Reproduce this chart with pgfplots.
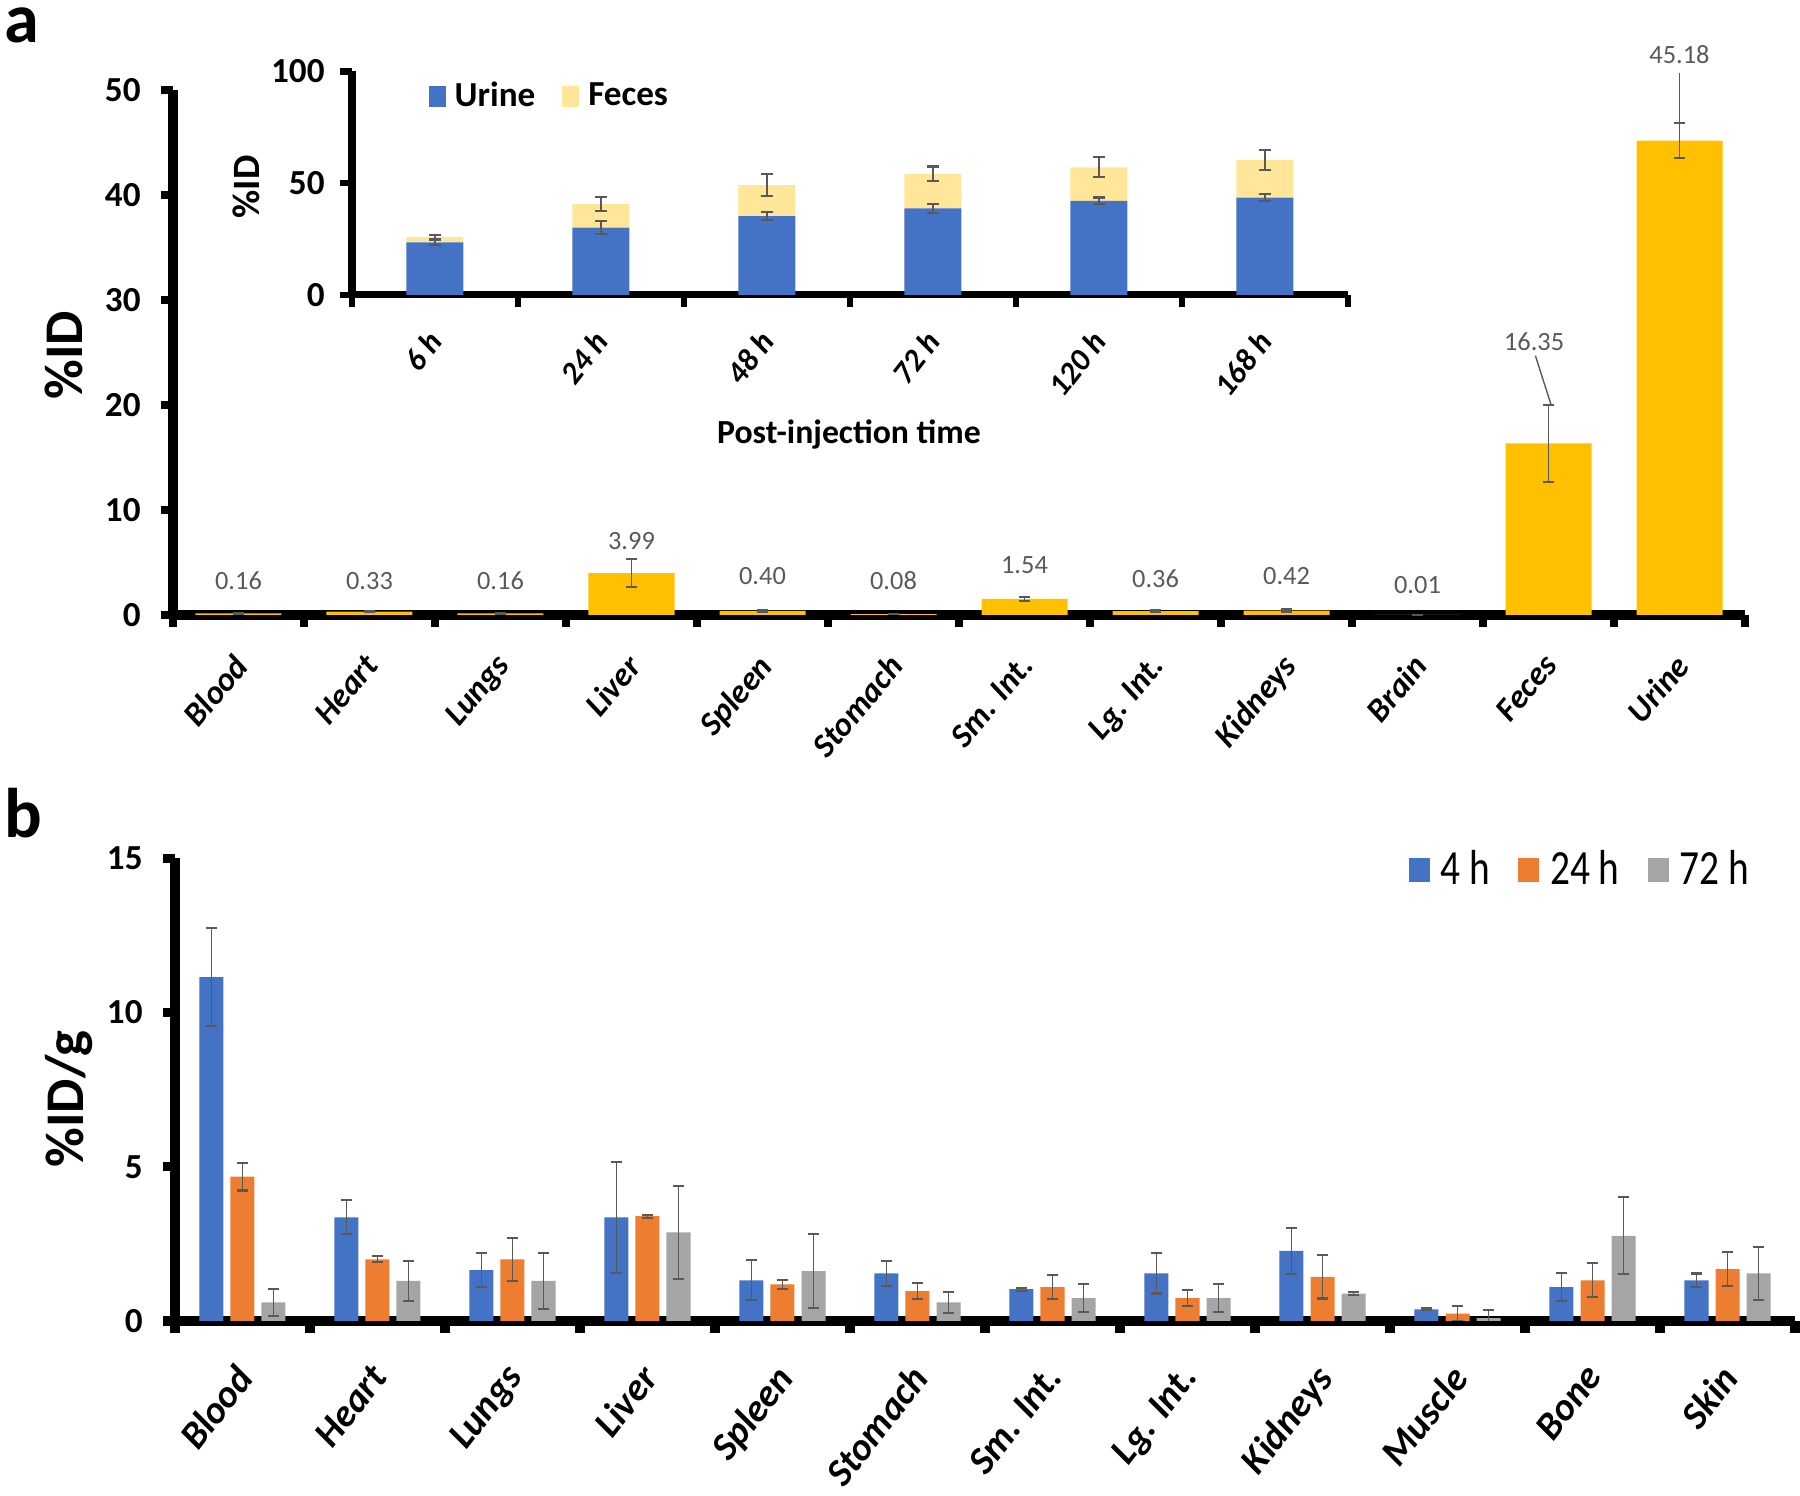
\documentclass[border=0pt]{standalone}
\usepackage{fontspec}
\setmainfont{Carlito}
\newfontfamily\condfont{Carlito}[FakeStretch=0.8]
\usepackage{pgfplots}
\pgfplotsset{compat=1.18}
\definecolor{xblue}{HTML}{4472C4}
\definecolor{xorange}{HTML}{ED7D31}
\definecolor{xgray}{HTML}{A5A5A5}
\definecolor{xgold}{HTML}{FFC000}
\definecolor{xlight}{HTML}{FFE699}
\definecolor{errc}{HTML}{595959}
\definecolor{lblc}{HTML}{595959}
\pgfplotsset{
  ebar/.style={error bars/.cd, y dir=both, y explicit,
    error bar style={line width=0.5pt, errc},
    error mark options={errc, line width=0.6pt, mark size=1.7pt, rotate=90}},
  commonax/.style={scale only axis, anchor=south west,
    axis x line*=bottom, axis y line*=left,
    tick align=outside,
    major tick length=0pt, minor tick length=0.12cm,
    minor tick style={black},
    /pgf/number format/assume math mode=true,
  },
}
\begin{document}
\begin{tikzpicture}[x=1cm,y=1cm]
\path[use as bounding box] (0,0) rectangle (18,14.96);

% ---------- panel a main ----------
\begin{axis}[commonax,
  at={(1.73cm,8.81cm)}, width=15.72cm, height=5.25cm,
  xmin=-0.5, xmax=11.5, ymin=0, ymax=50, clip=false,
  axis line style={line width=2.8pt},
  minor tick style={line width=2.4pt},
  ytick={0,10,20,30,40,50}, minor ytick={0,10,20,30,40,50},
  xtick={0,...,11}, minor xtick={-0.5,0.5,...,11.5},
  xticklabels={Blood,Heart,Lungs,Liver,Spleen,Stomach,Sm. Int.,Lg. Int.,Kidneys,Brain,Feces,Urine},
  xticklabel style={xshift=-0.08cm, yshift=-0.2cm, rotate=50, anchor=north east, font=\bfseries\itshape\fontsize{9.5}{11}\selectfont},
  yticklabel style={font=\bfseries\fontsize{10}{12}\selectfont, xshift=-0.2cm},
  ybar, bar width=0.86cm,
]
\addplot[fill=xgold, draw=none, ebar] coordinates {
 (0,0.16) +- (0,0.03)
 (1,0.33) +- (0,0.03)
 (2,0.16) +- (0,0.03)
 (3,3.99) +- (0,1.3)
 (4,0.40) +- (0,0.1)
 (5,0.08) +- (0,0.02)
 (6,1.54) +- (0,0.2)
 (7,0.36) +- (0,0.1)
 (8,0.42) +- (0,0.1)
 (9,0.01) +- (0,0.01)
 (10,16.35) +- (0,3.65)
 (11,45.18) +- (0,1.7)
};
\tikzset{dl/.style={text=lblc, font=\fontsize{7.5}{9}\selectfont, inner sep=0pt}}
\node[dl] at (axis cs:0,3.24) {0.16};
\node[dl] at (axis cs:1,3.24) {0.33};
\node[dl] at (axis cs:2,3.24) {0.16};
\node[dl] at (axis cs:3,7.05) {3.99};
\node[dl] at (axis cs:4,3.71) {0.40};
\node[dl] at (axis cs:5,3.30) {0.08};
\node[dl] at (axis cs:6,4.76) {1.54};
\node[dl] at (axis cs:7,3.43) {0.36};
\node[dl] at (axis cs:8,3.71) {0.42};
\node[dl] at (axis cs:9,2.86) {0.01};
\node[dl] at (axis cs:9.89,26.0) {16.35};
\node[dl] at (axis cs:11.0,53.4) {45.18};
\draw[lblc, line width=0.4pt] (axis cs:9.90,24.7) -- (axis cs:10.02,20.0);
\draw[lblc, line width=0.4pt] (axis cs:11,51.6) -- (axis cs:11,46.9);
\end{axis}

% ---------- panel a inset ----------
\begin{axis}[commonax,
  at={(3.52cm,12.01cm)}, width=9.96cm, height=2.235cm,
  xmin=-0.5, xmax=5.5, ymin=0, ymax=100,
  axis line style={line width=2pt},
  minor tick style={line width=1.8pt},
  ytick={0,50,100}, minor ytick={0,50,100},
  xtick={0,...,5}, minor xtick={-0.5,0.5,...,5.5},
  xticklabels={6 h,24 h,48 h,72 h,120 h,168 h},
  xticklabel style={xshift=-0.11cm, yshift=-0.16cm, rotate=52, anchor=north east, font=\bfseries\itshape\fontsize{9}{10}\selectfont},
  yticklabel style={font=\bfseries\fontsize{10}{12}\selectfont, xshift=-0.15cm},
  ybar stacked, bar width=0.57cm,
  legend style={at={(0.0763,0.886)}, anchor=west, draw=none, fill=none,
    font=\bfseries\fontsize{10}{12}\selectfont, inner sep=0pt,
    nodes={inner sep=0pt},
    /tikz/every odd column/.append style={column sep=0.09cm},
    /tikz/every even column/.append style={column sep=0.27cm}},
  legend columns=2,
  legend image code/.code={\draw[#1, draw=none] (0cm,-0.105cm) rectangle (0.17cm,0.105cm);},
]
\addplot[fill=xblue, draw=none, ebar] coordinates {
 (0,23.5) +- (0,1.0)
 (1,30.1) +- (0,3.0)
 (2,35.3) +- (0,1.8)
 (3,38.8) +- (0,2.0)
 (4,42.1) +- (0,1.5)
 (5,43.6) +- (0,1.5)
};
\addplot[fill=xlight, draw=none, ebar] coordinates {
 (0,2.5) +- (0,0.8)
 (1,10.5) +- (0,3.2)
 (2,13.9) +- (0,5.0)
 (3,15.4) +- (0,3.3)
 (4,15.0) +- (0,4.5)
 (5,16.9) +- (0,4.5)
};
\legend{Urine,Feces}
\end{axis}

% ---------- panel b ----------
\begin{axis}[commonax,
  at={(1.75cm,1.75cm)}, width=16.2cm, height=4.627cm,
  xmin=-0.5, xmax=11.5, ymin=0, ymax=15,
  axis line style={line width=3pt},
  minor tick style={line width=2.6pt},
  ytick={0,5,10,15}, minor ytick={0,5,10,15},
  xtick={0,...,11}, minor xtick={-0.5,0.5,...,11.5},
  xticklabels={Blood,Heart,Lungs,Liver,Spleen,Stomach,Sm. Int.,Lg. Int.,Kidneys,Muscle,Bone,Skin},
  xticklabel style={xshift=-0.11cm, yshift=-0.24cm, rotate=52, anchor=north east, font=\bfseries\itshape\fontsize{11}{13}\selectfont},
  yticklabel style={font=\bfseries\fontsize{10}{12}\selectfont, xshift=-0.2cm},
  ybar=0.07cm, bar width=0.24cm,
  legend style={at={(0.761,0.975)}, anchor=west, draw=none, fill=none,
    font=\condfont\fontsize{14}{16}\selectfont, inner sep=0pt,
    nodes={inner sep=0pt},
    /tikz/every odd column/.append style={column sep=0.11cm},
    /tikz/every even column/.append style={column sep=0.28cm}},
  legend columns=3,
  legend image code/.code={\draw[#1, draw=none] (0cm,-0.12cm) rectangle (0.21cm,0.12cm);},
]
\addplot[fill=xblue, draw=none, ebar] coordinates {
 (0,11.15) +- (0,1.6)
 (1,3.36) +- (0,0.55)
 (2,1.65) +- (0,0.55)
 (3,3.36) +- (0,1.8)
 (4,1.32) +- (0,0.65)
 (5,1.54) +- (0,0.4)
 (6,1.03) +- (0,0.05)
 (7,1.54) +- (0,0.65)
 (8,2.27) +- (0,0.75)
 (9,0.38) +- (0,0.03)
 (10,1.10) +- (0,0.45)
 (11,1.32) +- (0,0.22)
};
\addplot[fill=xorange, draw=none, ebar] coordinates {
 (0,4.68) +- (0,0.45)
 (1,2.00) +- (0,0.1)
 (2,2.00) +- (0,0.7)
 (3,3.40) +- (0,0.05)
 (4,1.19) +- (0,0.15)
 (5,0.97) +- (0,0.25)
 (6,1.10) +- (0,0.4)
 (7,0.74) +- (0,0.25)
 (8,1.43) +- (0,0.7)
 (9,0.24) +- (0,0.25)
 (10,1.32) +- (0,0.55)
 (11,1.68) +- (0,0.55)
};
\addplot[fill=xgray, draw=none, ebar] coordinates {
 (0,0.60) +- (0,0.45)
 (1,1.30) +- (0,0.65)
 (2,1.30) +- (0,0.9)
 (3,2.87) +- (0,1.5)
 (4,1.62) +- (0,1.2)
 (5,0.60) +- (0,0.35)
 (6,0.74) +- (0,0.45)
 (7,0.74) +- (0,0.45)
 (8,0.89) +- (0,0.05)
 (9,0.09) +- (0,0.26)
 (10,2.76) +- (0,1.25)
 (11,1.54) +- (0,0.85)
};
\legend{4 h,24 h,72 h}
\end{axis}

% ---------- free text ----------
\node[anchor=base west, inner sep=0pt, font=\bfseries\fontsize{20}{22}\selectfont] at (0.04,14.53) {a};
\node[anchor=base west, inner sep=0pt, font=\bfseries\fontsize{20}{22}\selectfont] at (0.04,6.58) {b};
\node[rotate=90, font=\bfseries\fontsize{15.5}{17}\selectfont] at (0.64,11.41) {\%ID};
\node[rotate=90, font=\bfseries\fontsize{11}{13}\selectfont] at (2.46,13.09) {\%ID};
\node[font=\bfseries\fontsize{9.6}{12}\selectfont] at (8.49,10.61) {Post-injection time};
\node[rotate=90, font=\bfseries\fontsize{15.5}{17}\selectfont] at (0.69,3.97) {\%ID/g};
\end{tikzpicture}
\end{document}
